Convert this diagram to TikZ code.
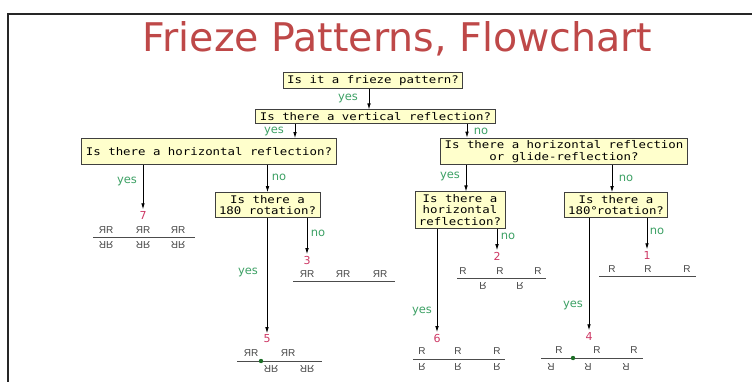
\documentclass[tikz,border=0pt]{standalone}
\usepackage{fontspec}
\usepackage{graphicx}
\usetikzlibrary{arrows.meta}
\setmainfont{DejaVu Sans}
\newfontfamily\boxfont[FakeStretch=1.18]{DejaVu Sans Mono}
\newfontfamily\motiffont{Liberation Sans}

\definecolor{titlered}{RGB}{190,72,72}
\definecolor{boxfill}{RGB}{255,255,204}
\definecolor{labgreen}{RGB}{60,160,100}
\definecolor{numred}{RGB}{205,55,100}
\definecolor{motifgray}{RGB}{70,70,70}
\definecolor{dotgreen}{RGB}{30,110,40}

% motifs of the frieze samples
\newcommand{\fzR}{R}
\newcommand{\fzF}{\scalebox{1}[-1]{R}}
\newcommand{\fzT}{\rotatebox[origin=c]{180}{R}}
\newcommand{\fzP}{\reflectbox{R}R}
\newcommand{\fzQ}{\scalebox{1}[-1]{\reflectbox{R}R}}

\begin{document}
\begin{tikzpicture}[x=1pt,y=-1pt,
  question/.style={draw=black!75, line width=0.9pt, fill=boxfill,
    inner xsep=4pt, inner ysep=2.5pt, align=center,
    font=\boxfont\fontsize{10.5}{11.5}\selectfont},
  arr/.style={draw=black, line width=0.8pt, -{Latex[length=6pt,width=3.6pt]}},
  lab/.style={text=labgreen, inner sep=0.5pt, font=\fontsize{11.5}{12}\selectfont},
  num/.style={text=numred, inner sep=1.5pt, font=\fontsize{11}{12}\selectfont},
  motif/.style={text=motifgray, inner sep=0pt, font=\motiffont\fontsize{10}{10}\selectfont},
  base/.style={draw=black!70, line width=0.8pt},
  dot/.style={fill=dotgreen, draw=none}]
\useasboundingbox (0,0) rectangle (752,381);

% frame
\draw[line width=1.8pt, black!85] (8,385) -- (8,14) -- (756,14);

% title
\node[anchor=base, text=titlered, inner sep=0pt,
  font=\fontsize{39.5}{40}\selectfont] (ttl) at (397.5,51.7) {Frieze Patterns, Flowchart};

% questions
\node[question] (n1) at (373,80.5) {Is it a frieze pattern?};
\node[question] (n2) at (375.5,116.5) {Is there a vertical reflection?};
\node[question, minimum height=26pt] (n3) at (209,151.5) {Is there a horizontal reflection?};
\node[question] (n4) at (564,151.5) {Is there a horizontal reflection\\or glide-reflection?};
\node[question] (n5) at (267.5,205) {Is there a\\180 rotation?};
\node[question] (n6) at (460,210) {Is there a\\horizontal\\reflection?};
\node[question] (n7) at (616,205) {Is there a\\180\raisebox{0pt}[0pt][0pt]{\makebox[0pt][l]{°}}\hspace{0.602em}rotation?};

% outcome numbers
\node[num] (num7) at (143,215) {7};
\node[num] (num3) at (307,260) {3};
\node[num] (num5) at (267,339) {5};
\node[num] (num2) at (497,256) {2};
\node[num] (num1) at (647,255) {1};
\node[num] (num6) at (437,338) {6};
\node[num] (num4) at (589,336) {4};

% columns of the connectors
\coordinate (c12) at (369,0);
\coordinate (c23) at (295,0);
\coordinate (c24) at (467,0);
\coordinate (c46) at (466,0);
\coordinate (c47) at (612,0);

% connectors
\draw[arr] (n1.south -| c12) -- (n2.north -| c12);
\draw[arr] (n2.south -| c23) -- (n3.north -| c23);
\draw[arr] (n2.south -| c24) -- (n4.north -| c24);
\draw[arr] (n3.south -| num7) -- (num7.north);
\draw[arr] (n3.south -| n5) -- (n5.north);
\draw[arr] (n5.south -| num5) -- (num5.north);
\draw[arr] (n5.south -| num3) -- (num3.north);
\draw[arr] (n4.south -| c46) -- (n6.north -| c46);
\draw[arr] (n4.south -| c47) -- (n7.north -| c47);
\draw[arr] (n6.south -| num2) -- (num2.north);
\draw[arr] (n6.south -| num6) -- (num6.north);
\draw[arr] (n7.south -| num1) -- (num1.north);
\draw[arr] (n7.south -| num4) -- (num4.north);

% answer labels
\node[lab] (l12) at (348,98) {yes};
\node[lab] (l23) at (274,131) {yes};
\node[lab] (l24) at (481,131) {no};
\node[lab] (l37) at (127,181) {yes};
\node[lab] (l35) at (279,177) {no};
\node[lab] (l55) at (248,272) {yes};
\node[lab] (l53) at (318,233) {no};
\node[lab] (l46) at (450,176) {yes};
\node[lab] (l47) at (626,178) {no};
\node[lab] (l62) at (508,236) {no};
\node[lab] (l66) at (422,311) {yes};
\node[lab] (l71) at (657,231) {no};
\node[lab] (l74) at (573,305) {yes};

% sample 7
\foreach \x [count=\i] in {106,143,178} {
  \node[motif] (s7u\i) at (\x,230) {\fzP};
  \node[motif] (s7d\i) at (\x,245) {\fzQ};
}
\draw[base] (93,237.5) -- (195,237.5);

% sample 3
\foreach \x [count=\i] in {307,343,380}
  \node[motif] (s3u\i) at (\x,274) {\fzP};
\draw[base] (293,281) -- (395,281);

% sample 5
\foreach \x [count=\i] in {251,288}
  \node[motif] (s5u\i) at (\x,353) {\fzP};
\foreach \x [count=\i] in {271,307}
  \node[motif] (s5d\i) at (\x,368.5) {\fzQ};
\draw[base] (237,361) -- (322,361);
\fill[dot] (261,361) circle (2.2pt);

% sample 2
\foreach \x [count=\i] in {463,500,538}
  \node[motif] (s2u\i) at (\x,271) {\fzR};
\foreach \x [count=\i] in {483,520}
  \node[motif] (s2d\i) at (\x,286) {\fzF};
\draw[base] (457,278) -- (546,278);

% sample 1
\foreach \x [count=\i] in {612,648,687}
  \node[motif] (s1u\i) at (\x,269) {\fzR};
\draw[base] (599,276) -- (696,276);

% sample 6
\foreach \x [count=\i] in {422,458,497} {
  \node[motif] (s6u\i) at (\x,351) {\fzR};
  \node[motif] (s6d\i) at (\x,367) {\fzF};
}
\draw[base] (413,359) -- (505,359);

% sample 4
\foreach \x [count=\i] in {559,597,634}
  \node[motif] (s4u\i) at (\x,350) {\fzR};
\foreach \x [count=\i] in {551,588,626}
  \node[motif] (s4d\i) at (\x,367) {\fzT};
\draw[base] (541,358) -- (643,358);
\fill[dot] (573,358) circle (2.2pt);
\end{tikzpicture}
\end{document}
